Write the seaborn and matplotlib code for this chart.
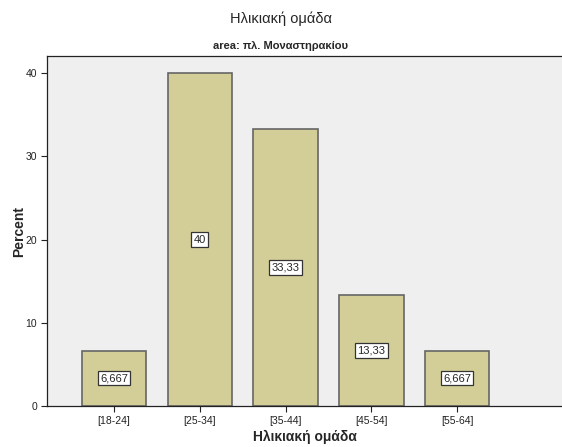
import pandas as pd
import matplotlib
matplotlib.use("Agg")
import matplotlib.pyplot as plt
import seaborn as sns

# data
age_groups = ['[18-24]', '[25-34]', '[35-44]', '[45-54]', '[55-64]']
percent = [6.667, 40.0, 33.33, 13.33, 6.667]
bar_text = ['6,667', '40', '33,33', '13,33', '6,667']

df = pd.DataFrame({'group': age_groups, 'percent': percent})

sns.set_style('white')
plt.rcParams['font.family'] = ['Liberation Sans', 'DejaVu Sans']

fig = plt.figure(figsize=(5.62, 4.47), dpi=100)
ax = fig.add_axes([0.0836, 0.0917, 0.9164, 0.783])
ax.set_facecolor('#EFEFEF')

sns.barplot(data=df, x='group', y='percent', color='#D3CE97', saturation=1,
            edgecolor='#666666', linewidth=1.2, width=0.75, ax=ax)

ax.bar_label(ax.containers[0], labels=bar_text, label_type='center', fontsize=8,
             bbox=dict(boxstyle='square,pad=0.2', facecolor='white',
                       edgecolor='#333333', linewidth=0.9))

ax.set_xlim(-0.78, 5.22)
ax.set_ylim(0, 42.05)
ax.set_yticks([0, 10, 20, 30, 40])
ax.tick_params(axis='both', direction='out', length=4, width=0.8,
               labelsize=7.5, colors='#222222', bottom=True, left=True, pad=3)

for side in ['left', 'bottom', 'top']:
    ax.spines[side].set_color('#222222')
    ax.spines[side].set_linewidth(0.9)
ax.spines['right'].set_visible(False)

ax.set_xlabel('Ηλικιακή ομάδα', fontsize=10, fontweight='bold', labelpad=3)
ax.set_ylabel('Percent', fontsize=10, fontweight='bold', labelpad=0)

fig.text(0.5, 0.957, 'Ηλικιακή ομάδα', ha='center', va='center', fontsize=10.5)
fig.text(0.5, 0.897, 'area: πλ. Μοναστηρακίου', ha='center', va='center',
         fontsize=8, fontweight='bold')

fig.savefig('out.png', dpi=100)
